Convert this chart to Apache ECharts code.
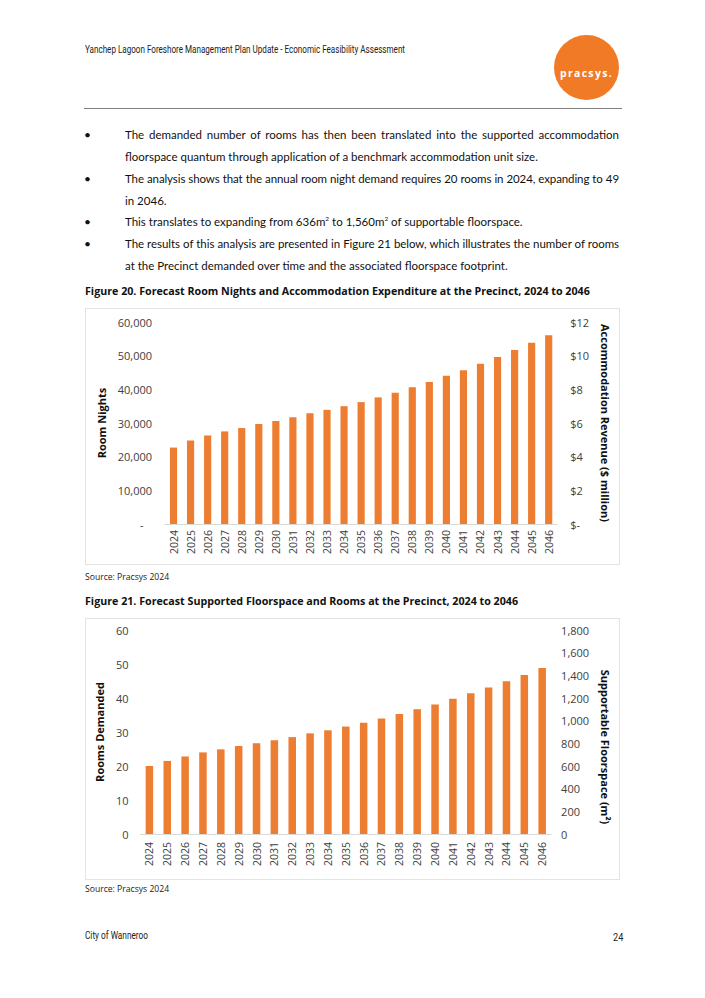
<!DOCTYPE html>
<html><head><meta charset="utf-8">
<script src="https://cdn.jsdelivr.net/npm/echarts/dist/echarts.min.js"></script>
<style>
html,body{margin:0;padding:0;background:#fff;}
body{width:705px;height:998px;position:relative;overflow:hidden;font-family:"Lato","Open Sans",sans-serif;color:#111;}
.t{position:absolute;white-space:nowrap;line-height:16px;height:16px;}
.hdr{font-family:"Roboto",sans-serif;font-size:11.5px;color:#222;transform-origin:0 50%;}
.body{font-size:11.5px;left:125px;}
.j{width:494px;text-align:justify;text-align-last:justify;}
.bul{left:84px;font-size:12px;}
.fig{font-family:"Open Sans",sans-serif;font-weight:bold;font-size:10.7px;left:85px;color:#111;}
.src{font-family:"Open Sans",sans-serif;font-size:8.6px;left:85px;color:#222;}
.box{position:absolute;border:1px solid #e3e3e3;box-sizing:border-box;}
</style></head>
<body>
<div class="t hdr" data-w="320" style="left:85px;top:41px;">Yanchep Lagoon Foreshore Management Plan Update - Economic Feasibility Assessment</div>
<div style="position:absolute;left:554px;top:35px;width:65px;height:65px;border-radius:50%;background:#F07A26;"></div>
<div class="t" style="left:554px;width:65px;top:65px;text-align:center;color:#fff;font-family:'Open Sans',sans-serif;font-weight:bold;font-size:10.5px;letter-spacing:1.3px;">pracsys.</div>
<div style="position:absolute;left:84px;top:108px;width:538px;height:1px;background:#808080;"></div>

<div class="t bul" style="top:127px;">•</div>
<div class="t body j" style="top:127px;">The demanded number of rooms has then been translated into the supported accommodation</div>
<div class="t body" style="top:149px;">floorspace quantum through application of a benchmark accommodation unit size.</div>
<div class="t bul" style="top:171px;">•</div>
<div class="t body j" style="top:171px;">The analysis shows that the annual room night demand requires 20 rooms in 2024, expanding to 49</div>
<div class="t body" style="top:193px;">in 2046.</div>
<div class="t bul" style="top:214px;">•</div>
<div class="t body" style="top:214px;">This translates to expanding from 636m<sup style="font-size:6.5px;line-height:0;">2</sup> to 1,560m<sup style="font-size:6.5px;line-height:0;">2</sup> of supportable floorspace.</div>
<div class="t bul" style="top:236px;">•</div>
<div class="t body j" style="top:236px;">The results of this analysis are presented in Figure 21 below, which illustrates the number of rooms</div>
<div class="t body" style="top:258px;">at the Precinct demanded over time and the associated floorspace footprint.</div>

<div class="t fig" style="top:283px;">Figure 20. Forecast Room Nights and Accommodation Expenditure at the Precinct, 2024 to 2046</div>
<div class="box" id="c1" style="left:85px;top:308px;width:535px;height:257px;"></div>
<div class="t src" style="top:569px;">Source: Pracsys 2024</div>
<div class="t fig" style="top:593px;">Figure 21. Forecast Supported Floorspace and Rooms at the Precinct, 2024 to 2046</div>
<div class="box" id="c2" style="left:85px;top:618px;width:535px;height:262px;"></div>
<div class="t src" style="top:881px;">Source: Pracsys 2024</div>

<div class="t hdr" data-w="63" style="left:85px;top:927px;">City of Wanneroo</div>
<div class="t hdr" style="left:613px;top:929px;transform:scaleX(0.8);">24</div>

<script>
const years = ['2024','2025','2026','2027','2028','2029','2030','2031','2032','2033','2034','2035','2036','2037','2038','2039','2040','2041','2042','2043','2044','2045','2046'];
const roomNights = [22700,24800,26300,27500,28500,29700,30600,31700,32900,33900,35000,36200,37600,39000,40600,42200,44000,45700,47600,49600,51700,53800,56100];
const roomsDemanded = [20,21.5,22.8,24.0,24.9,25.9,26.7,27.6,28.5,29.6,30.5,31.6,32.7,34.0,35.3,36.7,38.1,39.8,41.4,43.1,44.9,46.8,48.8];

document.querySelectorAll('[data-w]').forEach(el => {
  const w = el.getBoundingClientRect().width;
  el.style.transform = 'scaleX(' + (parseFloat(el.dataset.w) / w) + ')';
});
// keep justified lines inside their 494px column
document.querySelectorAll('.j').forEach(el => {
  let ls = 0;
  while (el.scrollWidth > el.clientWidth && ls > -1) {
    ls -= 0.05;
    el.style.letterSpacing = ls + 'px';
  }
});

const FONT = '"Open Sans", sans-serif';
const BAR = '#ED7D31';
const lbl = {fontFamily: FONT, fontSize: 11, color: '#404040'};
const nameStyle = {fontFamily: FONT, fontSize: 11, fontWeight: 'bold', color: '#111'};
function comma(v){return v.toString().replace(/\B(?=(\d{3})+(?!\d))/g, ',');}

function xAxisCfg(margin){
  return {type:'category', data: years,
    axisLine:{lineStyle:{color:'#d9d9d9', width:1}}, axisTick:{show:false},
    axisLabel:{rotate:90, margin: margin, fontSize:10.5, fontFamily:FONT, color:'#404040'}};
}

const c1 = echarts.init(document.getElementById('c1'), null, {renderer:'svg'});
c1.setOption({
  animation:false,
  grid:{left:79, right:55, top:13, bottom:40, containLabel:false},
  xAxis: xAxisCfg(6),
  yAxis:[
    {type:'value', min:0, max:60000, interval:10000, position:'left',
     name:'Room Nights', nameLocation:'middle', nameGap:50, nameRotate:90, nameTextStyle:nameStyle,
     axisLine:{show:false}, axisTick:{show:false}, splitLine:{show:false},
     axisLabel:Object.assign({margin:13, formatter:v => v===0 ? '-   ' : comma(v)}, lbl)},
    {type:'value', min:0, max:12, interval:2, position:'right',
     name:'Accommodation Revenue ($ million)', nameLocation:'middle', nameGap:37, nameRotate:-90, nameTextStyle:nameStyle,
     axisLine:{show:false}, axisTick:{show:false}, splitLine:{show:false},
     axisLabel:Object.assign({margin:13, formatter:v => v===0 ? '$-' : '$' + v}, lbl)}
  ],
  series:[{type:'bar', data: roomNights, yAxisIndex:0, barWidth:'42%', itemStyle:{color:BAR}}]
});

const c2 = echarts.init(document.getElementById('c2'), null, {renderer:'svg'});
c2.setOption({
  animation:false,
  grid:{left:52, right:62, top:11, bottom:45, containLabel:false},
  xAxis: xAxisCfg(8),
  yAxis:[
    {type:'value', min:0, max:60, interval:10, position:'left',
     name:'Rooms Demanded', nameLocation:'middle', nameGap:25, nameRotate:90, nameTextStyle:nameStyle,
     axisLine:{show:false}, axisTick:{show:false}, splitLine:{show:false},
     axisLabel:Object.assign({margin:12}, lbl)},
    {type:'value', min:0, max:1800, interval:200, position:'right',
     name:'Supportable Floorspace (m²)', nameLocation:'middle', nameGap:42, nameRotate:-90,
     nameTextStyle:Object.assign({padding:[0,0,0,30]}, nameStyle),
     axisLine:{show:false}, axisTick:{show:false}, splitLine:{show:false},
     axisLabel:Object.assign({margin:10, formatter:v => comma(v)}, lbl)}
  ],
  series:[{type:'bar', data: roomsDemanded, yAxisIndex:0, barWidth:'42%', itemStyle:{color:BAR}}]
});
</script>
</body></html>
